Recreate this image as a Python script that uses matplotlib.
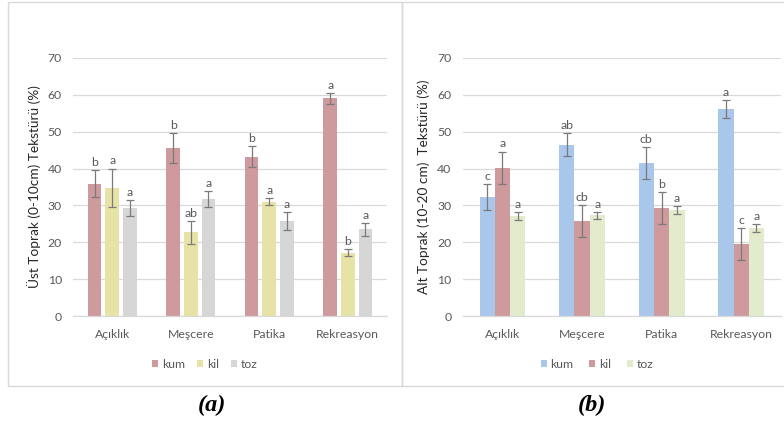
import matplotlib
matplotlib.use("Agg")
import matplotlib.pyplot as plt
from matplotlib.patches import Rectangle
import numpy as np

plt.rcParams['font.family'] = ['Lato', 'DejaVu Sans']

sites = ["Açıklık", "Meşcere", "Patika", "Rekreasyon"]
yticks = [0, 10, 20, 30, 40, 50, 60, 70]

# (a) topsoil 0-10 cm
a_names = ["kum", "kil", "toz"]
a_kum = [35.9, 45.5, 43.2, 59.0]
a_kil = [34.8, 22.7, 31.0, 17.2]
a_toz = [29.3, 31.8, 25.7, 23.5]
a_kum_err = [3.6, 4.0, 2.8, 1.5]
a_kil_err = [5.2, 3.2, 1.0, 1.0]
a_toz_err = [2.2, 2.2, 2.4, 1.7]
a_kum_let = ["b", "b", "b", "a"]
a_kil_let = ["a", "ab", "a", "b"]
a_toz_let = ["a", "a", "a", "a"]

# (b) subsoil 10-20 cm
b_names = ["kum", "kil", "toz"]
b_kum = [32.3, 46.5, 41.6, 56.1]
b_kil = [40.2, 25.8, 29.3, 19.6]
b_toz = [27.1, 27.3, 28.8, 23.9]
b_kum_err = [3.5, 3.0, 4.3, 2.5]
b_kil_err = [4.4, 4.4, 4.3, 4.4]
b_toz_err = [1.0, 1.0, 1.1, 1.1]
b_kum_let = ["c", "ab", "cb", "a"]
b_kil_let = ["a", "cb", "b", "c"]
b_toz_let = ["a", "a", "a", "a"]

RED = "#CF9A9D"
YEL = "#E7E3A6"
GRY = "#D6D6D6"
BLU = "#A9C6EB"
GRN = "#E3EBCD"
TXT = "#595959"
GRID = "#D9D9D9"

W, H = 784, 423
fig = plt.figure(figsize=(W / 100, H / 100), dpi=100)


def px_axes(x0, x1, ytop, ybot):
    return fig.add_axes([x0 / W, 1 - ybot / H, (x1 - x0) / W, (ybot - ytop) / H])


def panel(ax, series, errs, letters, colors, names, width, step, ylabel):
    x = np.arange(len(sites)) + 0.5
    handles = []
    for i, (vals, err, lets, col, name) in enumerate(zip(series, errs, letters, colors, names)):
        pos = x + (i - 1) * step
        b = ax.bar(pos, vals, width, color=col, label=name, zorder=2)
        handles.append(b)
        ax.errorbar(pos, vals, yerr=err, fmt="none", ecolor="#7A7A7A",
                    elinewidth=0.9, capsize=2.6, capthick=0.9, zorder=3)
        for p, v, e, t in zip(pos, vals, err, lets):
            ax.annotate(t, (p, v + e), xytext=(0, 1.5), textcoords="offset points",
                        ha="center", va="bottom", fontsize=8.8, color=TXT)
    ax.set_xlim(0, 4)
    ax.set_ylim(0, 70)
    ax.set_yticks(yticks)
    ax.set_xticks(x)
    ax.set_xticklabels(sites)
    ax.tick_params(axis="both", length=0, colors=TXT, labelsize=8.8)
    ax.tick_params(axis="x", pad=9)
    ax.tick_params(axis="y", pad=8)
    ax.grid(axis="y", color=GRID, linewidth=0.9, zorder=0)
    ax.set_axisbelow(True)
    for s in ["top", "right", "left"]:
        ax.spines[s].set_visible(False)
    ax.spines["bottom"].set_color(GRID)
    ax.spines["bottom"].set_linewidth(0.9)
    ax.set_ylabel(ylabel, fontsize=9.8, color="#262626", labelpad=5)
    return handles


ax1 = px_axes(73, 387, 57.7, 316.3)
h1 = panel(ax1, [a_kum, a_kil, a_toz], [a_kum_err, a_kil_err, a_toz_err],
           [a_kum_let, a_kil_let, a_toz_let], [RED, YEL, GRY], a_names,
           0.172, 0.223, "Üst Toprak (0-10cm) Tekstürü (%)")

ax2 = px_axes(462.7, 781, 57.7, 316.3)
h2 = panel(ax2, [b_kum, b_kil, b_toz], [b_kum_err, b_kil_err, b_toz_err],
           [b_kum_let, b_kil_let, b_toz_let], [BLU, RED, GRN], b_names,
           0.192, 0.192, "Alt Toprak (10-20 cm)  Tekstürü (%)")

for ax, h, names, cx, cs in [(ax1, h1, a_names, 205, 1.0), (ax2, h2, b_names, 597, 1.3)]:
    fig.legend(h, names, loc="center", bbox_to_anchor=(cx / W, 1 - 364 / H),
               ncol=3, frameon=False, fontsize=8.8, handlelength=0.5,
               handleheight=0.5, handletextpad=0.3, columnspacing=cs,
               labelcolor=TXT)

# panel frames
fig.add_artist(Rectangle((8 / W, 1 - 386 / H), (402 - 8) / W, (386 - 2) / H,
                         transform=fig.transFigure, fill=False,
                         edgecolor=GRID, linewidth=1.0))
fig.add_artist(Rectangle((402 / W, 1 - 386 / H), (800 - 402) / W, (386 - 2) / H,
                         transform=fig.transFigure, fill=False,
                         edgecolor=GRID, linewidth=1.0, clip_on=False))

for label, cx in [("(a)", 212), ("(b)", 592)]:
    fig.text(cx / W, 1 - 405 / H, label, ha="center", va="center",
             fontsize=17.5, fontweight="bold", fontstyle="italic",
             family="Liberation Serif", color="black")

fig.savefig("out.png", dpi=100)
